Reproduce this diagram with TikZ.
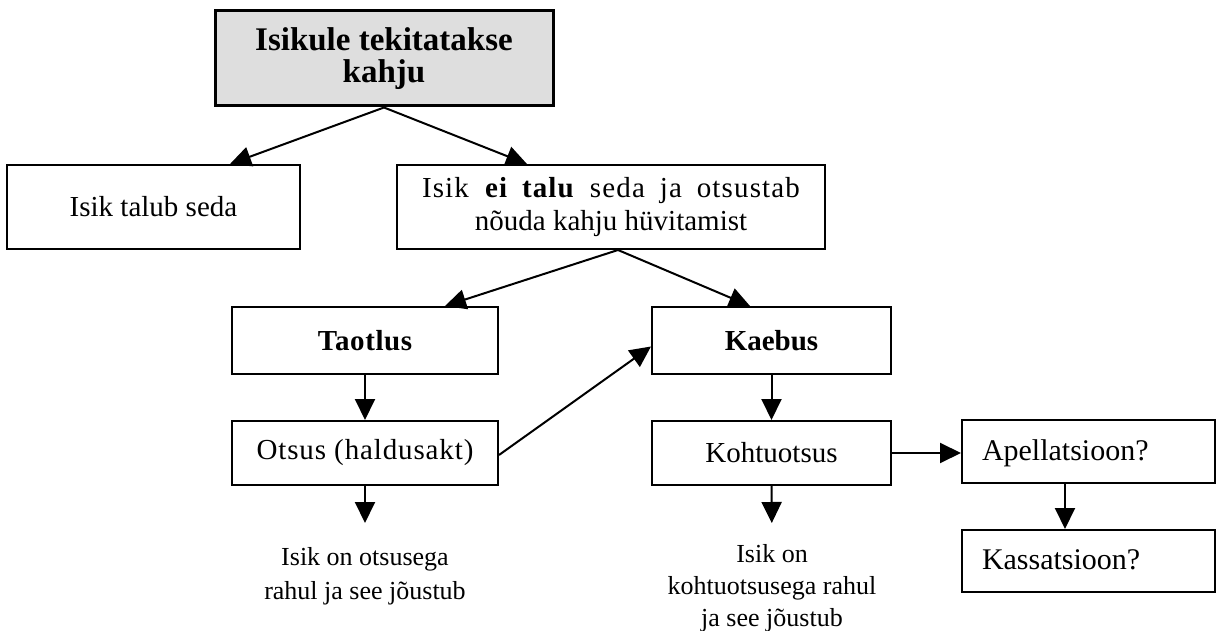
\documentclass[tikz,border=0pt]{standalone}
\usepackage{fontspec}
\setmainfont{Liberation Serif}
\usetikzlibrary{arrows.meta,calc}
\begin{document}
\begin{tikzpicture}[x=0.5pt,y=-0.5pt,
  box/.style={draw,line width=1pt,rectangle,inner sep=0pt,align=center,
    font=\fontsize{14.5}{16.5}\selectfont},
  qbox/.style={box,align=left,inner xsep=10pt,text width=106.5pt,
    font=\fontsize{15}{17}\selectfont},
  arr/.style={line width=1pt,-{Triangle[length=10.5pt,width=10pt]}},
  note/.style={align=center,inner sep=0pt}]
\useasboundingbox (0,0) rectangle (1223,631);

% boxes
\node[box,minimum width=169pt,minimum height=47.5pt,line width=1.5pt,fill=black!13,
  font=\fontsize{16.5}{16}\selectfont\bfseries] (top) at (384,58.5) {Isikule tekitatakse\\kahju};
\node[box,minimum width=146.5pt,minimum height=42pt] (talub) at (153.5,207) {Isik talub seda};
\node[box,minimum width=214pt,minimum height=42pt] (eitalu) at (611,207)
  {\makebox[189pt][s]{\addfontfeature{LetterSpace=4}Isik \textbf{ei talu} seda ja otsustab}\\nõuda kahju hüvitamist};
\node[box,minimum width=133pt,minimum height=33.5pt,font=\fontsize{14.5}{16.5}\selectfont\bfseries] (taotlus) at (365,340.5) {\addfontfeature{LetterSpace=2}Taotlus};
\node[box,minimum width=119.5pt,minimum height=33.5pt,font=\fontsize{14.5}{16.5}\selectfont\bfseries] (kaebus) at (771.5,340.5) {Kaebus};
\node[box,minimum width=133pt,minimum height=32pt] (otsus) at (365,453) {\addfontfeature{LetterSpace=3}Otsus (haldusakt)};
\node[box,minimum width=119.5pt,minimum height=32pt] (kohtu) at (771.5,453) {Kohtuotsus};
\node[qbox,minimum height=31.5pt,text depth=1pt] (apell) at (1088.5,451.5) {Apellatsioon?};
\node[qbox,minimum height=31pt,text depth=1pt] (kass) at (1088.5,561) {Kassatsioon?};

% outcomes
\node[note,anchor=north,font=\fontsize{13}{17}\selectfont] (res1) at (365,547)
  {Isik on otsusega\\rahul ja see jõustub};
\node[note,anchor=north,font=\fontsize{13}{16}\selectfont] (res2) at (772,544)
  {Isik on\\kohtuotsusega rahul\\ja see jõustub};

% connectors
\draw[arr] (top.south) -- ([xshift=38.25pt]talub.north);
\draw[arr] (top.south) -- ([xshift=-42pt]eitalu.north);
\draw[arr] ([xshift=3.5pt]eitalu.south) -- ([xshift=40pt]taotlus.north);
\draw[arr] ([xshift=3.5pt]eitalu.south) -- ([xshift=-10.75pt]kaebus.north);
\draw[arr] (taotlus.south) -- (otsus.north);
\draw[arr] ([yshift=-1pt]otsus.east) -- ([yshift=-3pt]kaebus.west);
\draw[arr] (kaebus.south) -- (kohtu.north);
\draw[arr] (kohtu.east) -- (kohtu.east -| apell.west);
\draw[arr] ([xshift=-11.75pt]apell.south) -- ([xshift=-11.75pt]kass.north);
\draw[arr,shorten >=12pt] (otsus.south) -- (res1.north);
\draw[arr,shorten >=10.5pt] (kohtu.south) -- (res2.north);
\end{tikzpicture}
\end{document}
